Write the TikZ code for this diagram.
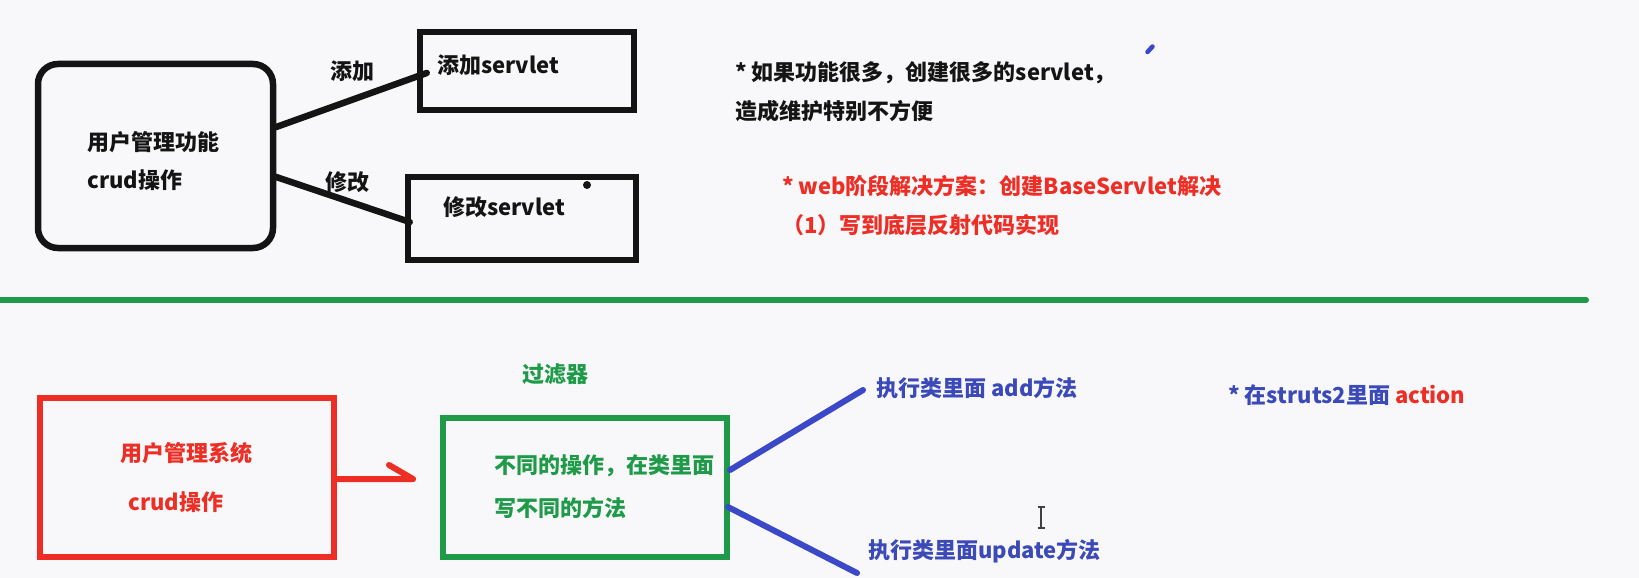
\documentclass[tikz,border=0pt]{standalone}
\usepackage{fontspec}
\setmainfont{Noto Sans CJK SC}
\definecolor{bgc}{RGB}{248,248,250}
\definecolor{inkc}{RGB}{20,20,20}
\definecolor{redc}{RGB}{238,45,36}
\definecolor{greenc}{RGB}{30,154,72}
\definecolor{bluec}{RGB}{59,72,200}
\definecolor{bluetxt}{RGB}{59,74,184}
\tikzset{
  txt/.style={anchor=west, inner sep=0pt, font=\fontsize{22}{26}\selectfont\bfseries},
  blackbox/.style={draw=inkc, line width=6.5pt, rectangle, inner sep=0pt},
  redbox/.style={draw=redc, line width=6pt, rectangle, inner sep=0pt},
  greenbox/.style={draw=greenc, line width=6pt, rectangle, inner sep=0pt},
  blackline/.style={draw=inkc, line width=6.5pt, line cap=round},
  blueline/.style={draw=bluec, line width=6pt, line cap=round},
  redline/.style={draw=redc, line width=6pt, line cap=round, line join=round},
}
\begin{document}
\begin{tikzpicture}[x=1pt,y=-1pt]
\fill[bgc] (0,0) rectangle (1639,578);
\useasboundingbox (0,0) rectangle (1639,578);

% ---------- upper part ----------
\node[blackbox, rounded corners=20pt, minimum width=235pt, minimum height=184pt] (func) at (155.5,156) {};
\node[txt, text=inkc] (functxt1) at (87,142) {用户管理功能};
\node[txt, text=inkc] (functxt2) at (87,180) {crud操作};

\node[blackbox, minimum width=214pt, minimum height=78pt] (addbox) at (527,71) {};
\node[txt, text=inkc] (addtxt) at (437,65) {添加servlet};
\node[blackbox, minimum width=228pt, minimum height=83pt] (modbox) at (522,218.5) {};
\node[txt, text=inkc] (modtxt) at (443,207) {修改servlet};

\draw[blackline] ([yshift=29pt]func.east) -- ([xshift=10pt,yshift=-2pt]addbox.west);
\draw[blackline] ([yshift=-21pt]func.east) -- ([xshift=5pt,yshift=-3.5pt]modbox.west);
\node[txt, text=inkc] (lbladd) at (330,71) {添加};
\node[txt, text=inkc] (lblmod) at (325,182) {修改};

\fill[inkc] (587,185) circle (4pt);
\draw[bluec, line width=4.5pt, line cap=round] (1147.5,52) -- (1152.5,46.5);

\node[txt, text=inkc] (note1) at (735,73) {* 如果功能很多，创建很多的servlet，};
\node[txt, text=inkc] (note2) at (735,111) {造成维护特别不方便};
\node[txt, text=redc] (note3) at (782,186) {* web阶段解决方案：创建BaseServlet解决};
\node[txt, text=redc] (note4) at (782,225) {（1）写到底层反射代码实现};

% ---------- separator ----------
\coordinate (sepL) at (-5,300);
\coordinate (sepR) at (1586,300);
\draw[greenc, line width=6pt, line cap=round] (sepL) -- (sepR);

% ---------- lower part ----------
\node[txt, text=greenc] (filter) at (522,374) {过滤器};

\node[redbox, minimum width=294pt, minimum height=159pt] (sys) at (187,477.5) {};
\node[txt, text=redc] (systxt1) at (120,453) {用户管理系统};
\node[txt, text=redc] (systxt2) at (128,502) {crud操作};

\node[greenbox, minimum width=284pt, minimum height=139pt] (gbox) at (585,487.5) {};
\node[txt, text=greenc] (gtxt1) at (494,466) {不同的操作，在类里面};
\node[txt, text=greenc] (gtxt2) at (494,508) {写不同的方法};

\coordinate (tip) at (413,479);
\draw[redline] ([yshift=-1.5pt]sys.east) -- (tip) -- ++(-24,-14);

\node[txt, text=bluetxt] (addm) at (876,388) {执行类里面 add方法};
\node[txt, text=bluetxt] (updm) at (868,551) {执行类里面update方法};
\coordinate (addend) at (863,390);
\coordinate (updend) at (857,573);
\draw[blueline] ([yshift=17.5pt]gbox.east) -- (addend);
\draw[blueline] ([yshift=-19.5pt,xshift=-2pt]gbox.east) -- (updend);

\node[txt, text=bluetxt] (struts) at (1228,395) {* 在struts2里面 \textcolor{redc}{action}};

% cursor
\draw[black!75, line width=1.2pt] (1041,507) -- (1041,528);
\draw[black!75, line width=1.2pt] (1037.5,507) -- (1044.5,507);
\draw[black!75, line width=1.2pt] (1037.5,528) -- (1044.5,528);
\end{tikzpicture}
\end{document}
